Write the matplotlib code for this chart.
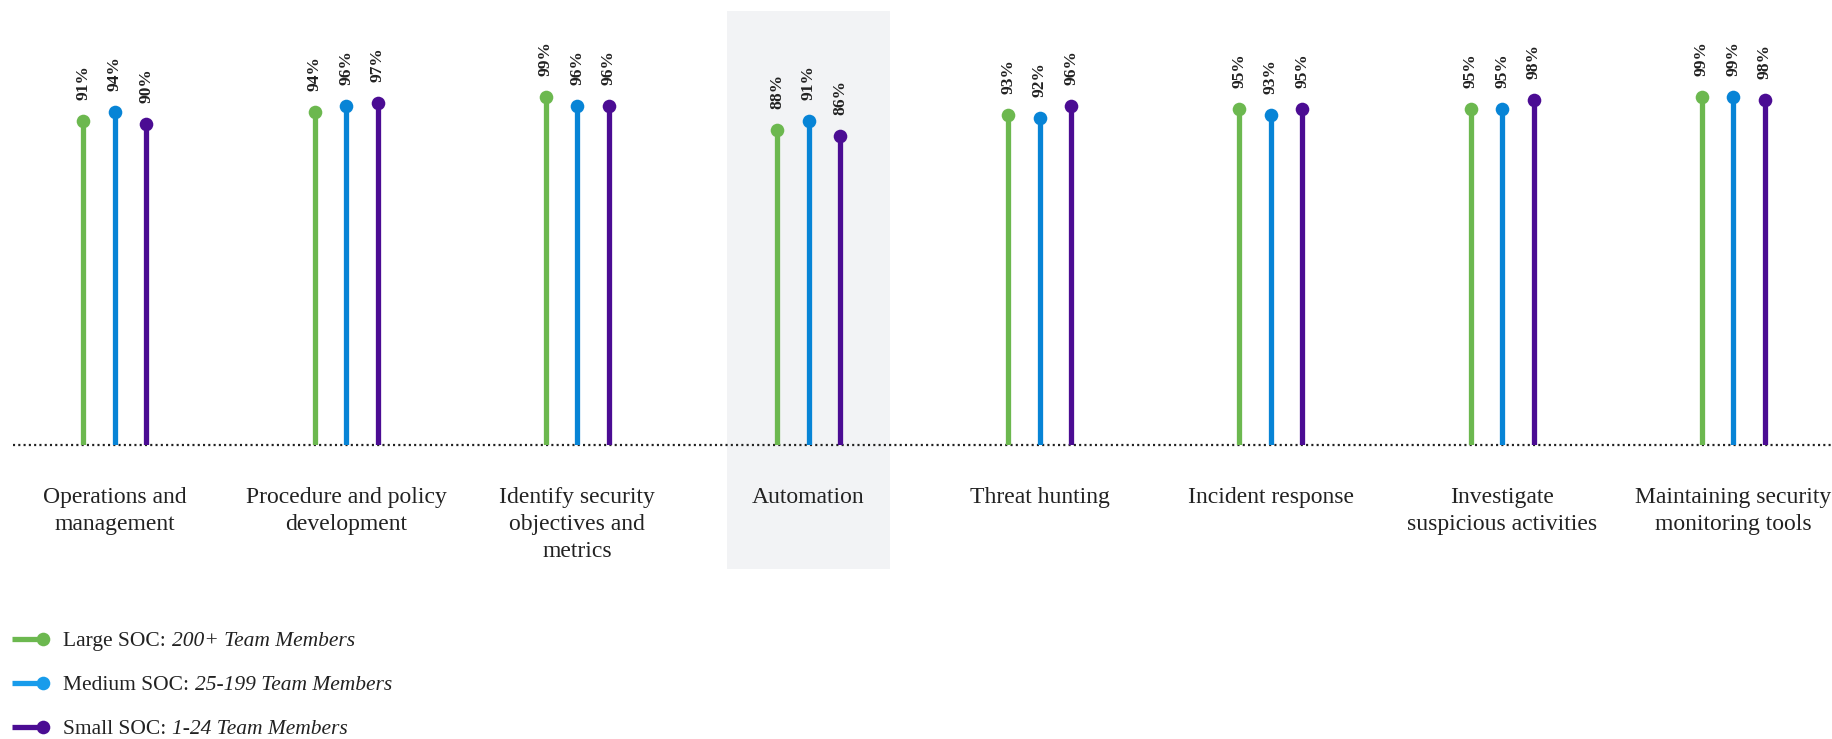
import matplotlib
matplotlib.use("Agg")
import matplotlib.pyplot as plt
import matplotlib.transforms as mtransforms
from matplotlib.patches import Rectangle
from matplotlib.lines import Line2D

plt.rcParams["font.family"] = ["Liberation Serif", "DejaVu Serif"]
plt.rcParams["lines.scale_dashes"] = False

# ---- data ----
categories = [
    "Operations and\nmanagement",
    "Procedure and policy\ndevelopment",
    "Identify security\nobjectives and\nmetrics",
    "Automation",
    "Threat hunting",
    "Incident response",
    "Investigate\nsuspicious activities",
    "Maintaining security\nmonitoring tools",
]
large_soc = [91, 94, 99, 88, 93, 95, 95, 99]
medium_soc = [94, 96, 96, 91, 92, 93, 95, 99]
small_soc = [90, 97, 96, 86, 96, 95, 98, 98]

series_names = ["Large SOC:", "Medium SOC:", "Small SOC:"]
series_notes = ["200+ Team Members", "25-199 Team Members", "1-24 Team Members"]
highlight_index = 3

# ---- style ----
stem_colors = ["#6cb84f", "#0784d6", "#4b0c93"]
legend_colors = ["#6cb84f", "#189ceb", "#4b0c93"]
text_color = "#222222"
box_color = "#f2f3f5"

W, H, DPI = 1833, 739, 100
fig = plt.figure(figsize=(W / DPI, H / DPI), dpi=DPI)
fig.patch.set_facecolor("white")

baseline_px = 445
ax = fig.add_axes([0, 1 - baseline_px / H, 1, baseline_px / H])
ax.patch.set_alpha(0)

y_floor = -17.1
ax.set_ylim(y_floor, 131.2)
x_lo, x_hi = -0.497, 7.431
ax.set_xlim(x_lo, x_hi)
offset = 0.136

# highlighted category column (spans below the axes, behind the stems)
trans_fig_y = mtransforms.blended_transform_factory(ax.transData, fig.transFigure)
ax.add_patch(Rectangle((highlight_index - 0.352, 1 - 569 / H), 0.704,
                       (569 - 11) / H, transform=trans_fig_y,
                       facecolor=box_color, edgecolor="none", zorder=0,
                       clip_on=False))

# dotted baseline
ax.plot([x_lo + 13 / W * (x_hi - x_lo), x_hi], [y_floor, y_floor],
        color="#222222", lw=1.6, linestyle=(0, (1.5, 2.3)),
        dash_capstyle="butt", clip_on=False, zorder=1)

for k, vals in enumerate([large_soc, medium_soc, small_soc]):
    xs = [i + (k - 1) * offset for i in range(len(vals))]
    ax.vlines(xs, y_floor, vals, color=stem_colors[k], lw=3.8, zorder=2)
    ax.plot(xs, vals, "o", color=stem_colors[k], ms=9.8, mec="none", zorder=3)
    for x, v in zip(xs, vals):
        ax.annotate(f"{v}%", (x, v), xytext=(0, 15), textcoords="offset points",
                    rotation=90, ha="center", va="bottom", fontsize=12.5,
                    fontweight="bold", color=text_color, zorder=4)

for spine in ax.spines.values():
    spine.set_visible(False)
ax.set_xticks([])
ax.set_yticks([])

# category labels below the baseline
for i, name in enumerate(categories):
    ax.text(i, 1 - 487 / H, name, transform=trans_fig_y, ha="center", va="top",
            fontsize=17, color=text_color, linespacing=1.38, clip_on=False)

# legend
renderer = fig.canvas.get_renderer()
legend_rows = [639, 683, 727]
for k in range(3):
    yf = 1 - legend_rows[k] / H
    fig.add_artist(Line2D([12 / W, 43 / W], [yf, yf], transform=fig.transFigure,
                          color=legend_colors[k], lw=3.8, solid_capstyle="butt"))
    fig.add_artist(Line2D([43 / W], [yf], transform=fig.transFigure, marker="o",
                          ms=9.8, color=legend_colors[k], mec="none"))
    t = fig.text(63 / W, yf, series_names[k], ha="left", va="center_baseline",
                 fontsize=15.5, color=text_color)
    bb = t.get_window_extent(renderer)
    fig.text((bb.x1 + 6) / W, yf, series_notes[k], ha="left",
             va="center_baseline", fontsize=15.5, style="italic", color=text_color)

fig.savefig("out.png", dpi=DPI, facecolor="white")
